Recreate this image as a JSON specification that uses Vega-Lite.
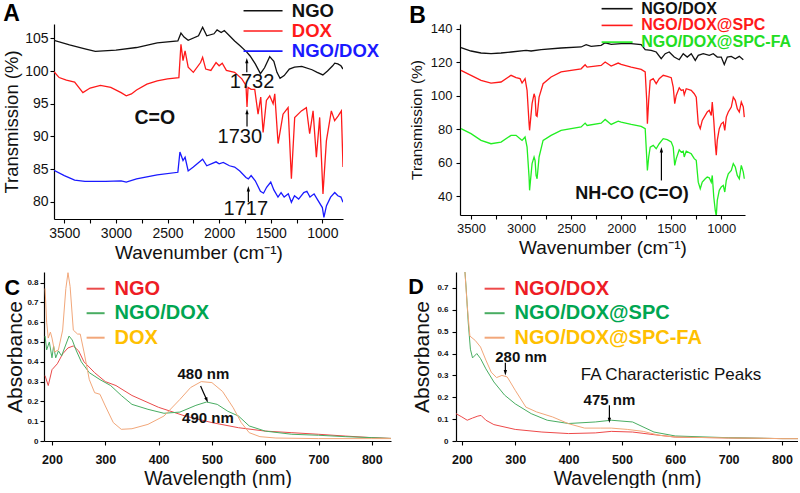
{
"$schema":"https://vega.github.io/schema/vega-lite/v6.json",
"background":"white",
"padding":{"left":2,"top":0,"right":0,"bottom":0},
"config":{"view":{"stroke":null},"font":"Liberation Sans",
 "axis":{"grid":false,"domainColor":"#000","tickColor":"#000","labelColor":"#111","titleColor":"#111","titleFontWeight":"normal","tickSize":4,"domainWidth":1.2,"tickWidth":1.1,"labelOverlap":false,"labelFlush":false,"labelFont":"Liberation Sans","titleFont":"Liberation Sans"},
 "legend":{"labelLimit":0,"padding":0,"labelFont":"Liberation Sans","labelFontWeight":"bold"}
},
"datasets":{
"ftirA":[
{"series":"NGO","wn":3600,"t":104.7},{"series":"NGO","wn":3450,"t":104.0},{"series":"NGO","wn":3300,"t":103.4},{"series":"NGO","wn":3200,"t":103.0},{"series":"NGO","wn":3000,"t":103.2},{"series":"NGO","wn":2800,"t":103.6},{"series":"NGO","wn":2600,"t":104.3},{"series":"NGO","wn":2400,"t":104.6},{"series":"NGO","wn":2370,"t":105.8},{"series":"NGO","wn":2340,"t":105.2},{"series":"NGO","wn":2300,"t":104.7},{"series":"NGO","wn":2200,"t":105.4},{"series":"NGO","wn":2160,"t":106.7},{"series":"NGO","wn":2120,"t":105.4},{"series":"NGO","wn":2050,"t":105.7},{"series":"NGO","wn":2020,"t":106.3},{"series":"NGO","wn":1980,"t":105.9},{"series":"NGO","wn":1950,"t":106.2},{"series":"NGO","wn":1900,"t":105.4},{"series":"NGO","wn":1850,"t":104.6},{"series":"NGO","wn":1800,"t":103.9},{"series":"NGO","wn":1732,"t":102.9},{"series":"NGO","wn":1700,"t":102.3},{"series":"NGO","wn":1650,"t":101.1},{"series":"NGO","wn":1600,"t":99.6},{"series":"NGO","wn":1560,"t":100.5},{"series":"NGO","wn":1510,"t":102.2},{"series":"NGO","wn":1470,"t":101.5},{"series":"NGO","wn":1440,"t":99.8},{"series":"NGO","wn":1410,"t":98.9},{"series":"NGO","wn":1370,"t":99.3},{"series":"NGO","wn":1320,"t":100.3},{"series":"NGO","wn":1270,"t":100.6},{"series":"NGO","wn":1200,"t":100.7},{"series":"NGO","wn":1100,"t":100.2},{"series":"NGO","wn":1050,"t":99.8},{"series":"NGO","wn":995,"t":99.4},{"series":"NGO","wn":950,"t":100.0},{"series":"NGO","wn":900,"t":100.8},{"series":"NGO","wn":880,"t":101.2},{"series":"NGO","wn":850,"t":101.1},{"series":"NGO","wn":820,"t":100.8},{"series":"NGO","wn":800,"t":100.3},
{"series":"DOX","wn":3600,"t":99.9},{"series":"DOX","wn":3550,"t":99.0},{"series":"DOX","wn":3480,"t":98.6},{"series":"DOX","wn":3400,"t":98.3},{"series":"DOX","wn":3320,"t":96.7},{"series":"DOX","wn":3250,"t":97.4},{"series":"DOX","wn":3150,"t":97.8},{"series":"DOX","wn":3050,"t":97.5},{"series":"DOX","wn":2950,"t":96.7},{"series":"DOX","wn":2900,"t":96.2},{"series":"DOX","wn":2850,"t":96.5},{"series":"DOX","wn":2800,"t":97.1},{"series":"DOX","wn":2700,"t":98.0},{"series":"DOX","wn":2600,"t":98.5},{"series":"DOX","wn":2500,"t":98.8},{"series":"DOX","wn":2390,"t":99.0},{"series":"DOX","wn":2370,"t":104.1},{"series":"DOX","wn":2350,"t":101.6},{"series":"DOX","wn":2330,"t":103.1},{"series":"DOX","wn":2300,"t":100.6},{"series":"DOX","wn":2250,"t":99.8},{"series":"DOX","wn":2180,"t":101.3},{"series":"DOX","wn":2160,"t":102.1},{"series":"DOX","wn":2130,"t":100.3},{"series":"DOX","wn":2080,"t":100.1},{"series":"DOX","wn":2030,"t":101.3},{"series":"DOX","wn":2000,"t":100.8},{"series":"DOX","wn":1970,"t":101.2},{"series":"DOX","wn":1930,"t":100.1},{"series":"DOX","wn":1850,"t":99.8},{"series":"DOX","wn":1780,"t":98.8},{"series":"DOX","wn":1740,"t":97.8},{"series":"DOX","wn":1730,"t":94.5},{"series":"DOX","wn":1720,"t":97.5},{"series":"DOX","wn":1690,"t":97.2},{"series":"DOX","wn":1655,"t":97.2},{"series":"DOX","wn":1623,"t":93.4},{"series":"DOX","wn":1597,"t":96.0},{"series":"DOX","wn":1574,"t":90.6},{"series":"DOX","wn":1542,"t":95.5},{"series":"DOX","wn":1510,"t":96.2},{"series":"DOX","wn":1477,"t":95.0},{"series":"DOX","wn":1461,"t":96.5},{"series":"DOX","wn":1429,"t":88.9},{"series":"DOX","wn":1381,"t":93.4},{"series":"DOX","wn":1332,"t":94.4},{"series":"DOX","wn":1300,"t":83.5},{"series":"DOX","wn":1268,"t":92.9},{"series":"DOX","wn":1203,"t":93.9},{"series":"DOX","wn":1155,"t":94.4},{"series":"DOX","wn":1123,"t":90.4},{"series":"DOX","wn":1090,"t":93.9},{"series":"DOX","wn":1058,"t":86.8},{"series":"DOX","wn":1026,"t":92.9},{"series":"DOX","wn":994,"t":81.2},{"series":"DOX","wn":961,"t":89.3},{"series":"DOX","wn":913,"t":93.9},{"series":"DOX","wn":881,"t":92.4},{"series":"DOX","wn":848,"t":93.1},{"series":"DOX","wn":816,"t":93.9},{"series":"DOX","wn":800,"t":85.3},
{"series":"NGO/DOX","wn":3600,"t":84.8},{"series":"NGO/DOX","wn":3500,"t":84.0},{"series":"NGO/DOX","wn":3400,"t":83.3},{"series":"NGO/DOX","wn":3300,"t":83.1},{"series":"NGO/DOX","wn":3100,"t":83.1},{"series":"NGO/DOX","wn":2950,"t":83.2},{"series":"NGO/DOX","wn":2900,"t":83.0},{"series":"NGO/DOX","wn":2800,"t":83.5},{"series":"NGO/DOX","wn":2600,"t":84.1},{"series":"NGO/DOX","wn":2400,"t":84.5},{"series":"NGO/DOX","wn":2380,"t":87.6},{"series":"NGO/DOX","wn":2350,"t":86.3},{"series":"NGO/DOX","wn":2330,"t":86.8},{"series":"NGO/DOX","wn":2300,"t":84.7},{"series":"NGO/DOX","wn":2250,"t":85.3},{"series":"NGO/DOX","wn":2160,"t":86.5},{"series":"NGO/DOX","wn":2120,"t":85.5},{"series":"NGO/DOX","wn":2030,"t":86.1},{"series":"NGO/DOX","wn":2000,"t":85.8},{"series":"NGO/DOX","wn":1960,"t":86.0},{"series":"NGO/DOX","wn":1900,"t":85.5},{"series":"NGO/DOX","wn":1850,"t":85.3},{"series":"NGO/DOX","wn":1800,"t":84.7},{"series":"NGO/DOX","wn":1740,"t":83.7},{"series":"NGO/DOX","wn":1717,"t":83.5},{"series":"NGO/DOX","wn":1690,"t":84.0},{"series":"NGO/DOX","wn":1650,"t":83.2},{"series":"NGO/DOX","wn":1600,"t":81.6},{"series":"NGO/DOX","wn":1570,"t":81.3},{"series":"NGO/DOX","wn":1540,"t":82.2},{"series":"NGO/DOX","wn":1500,"t":83.0},{"series":"NGO/DOX","wn":1470,"t":81.8},{"series":"NGO/DOX","wn":1430,"t":80.7},{"series":"NGO/DOX","wn":1400,"t":81.4},{"series":"NGO/DOX","wn":1370,"t":80.7},{"series":"NGO/DOX","wn":1330,"t":81.2},{"series":"NGO/DOX","wn":1300,"t":79.9},{"series":"NGO/DOX","wn":1270,"t":80.9},{"series":"NGO/DOX","wn":1230,"t":80.4},{"series":"NGO/DOX","wn":1180,"t":81.4},{"series":"NGO/DOX","wn":1150,"t":81.6},{"series":"NGO/DOX","wn":1120,"t":80.7},{"series":"NGO/DOX","wn":1080,"t":81.2},{"series":"NGO/DOX","wn":1050,"t":80.4},{"series":"NGO/DOX","wn":1000,"t":79.1},{"series":"NGO/DOX","wn":985,"t":77.6},{"series":"NGO/DOX","wn":960,"t":79.4},{"series":"NGO/DOX","wn":920,"t":80.7},{"series":"NGO/DOX","wn":880,"t":81.4},{"series":"NGO/DOX","wn":850,"t":80.9},{"series":"NGO/DOX","wn":820,"t":80.7},{"series":"NGO/DOX","wn":800,"t":79.9}
],
"annA":[
{"label":"A","kind":"panel","wn":4091,"t":108.7},
{"label":"1732","kind":"peak","wn":1681,"t":98.3},
{"label":"1730","kind":"peak","wn":1800,"t":89.85},
{"label":"1717","kind":"peak","wn":1742,"t":78.9},
{"label":"C=O","kind":"group","wn":2623,"t":92.8}
],
"arrA":[
{"wn":1732,"t":101.45,"t2":99.8},
{"wn":1730,"t":93.65,"t2":91.5},
{"wn":1717,"t":81.85,"t2":79.9}
],
"ftirB":[
{"series":"NGO/DOX","wn":3600,"t":128.7},{"series":"NGO/DOX","wn":3500,"t":126.7},{"series":"NGO/DOX","wn":3400,"t":125.5},{"series":"NGO/DOX","wn":3300,"t":125.1},{"series":"NGO/DOX","wn":3200,"t":125.5},{"series":"NGO/DOX","wn":3100,"t":126.1},{"series":"NGO/DOX","wn":2950,"t":127.1},{"series":"NGO/DOX","wn":2900,"t":126.7},{"series":"NGO/DOX","wn":2800,"t":127.5},{"series":"NGO/DOX","wn":2600,"t":128.5},{"series":"NGO/DOX","wn":2400,"t":129.1},{"series":"NGO/DOX","wn":2350,"t":130.5},{"series":"NGO/DOX","wn":2300,"t":129.5},{"series":"NGO/DOX","wn":2200,"t":130.1},{"series":"NGO/DOX","wn":2160,"t":131.6},{"series":"NGO/DOX","wn":2100,"t":130.7},{"series":"NGO/DOX","wn":2000,"t":131.1},{"series":"NGO/DOX","wn":1900,"t":131.1},{"series":"NGO/DOX","wn":1800,"t":130.5},{"series":"NGO/DOX","wn":1760,"t":127.5},{"series":"NGO/DOX","wn":1700,"t":127.1},{"series":"NGO/DOX","wn":1650,"t":126.1},{"series":"NGO/DOX","wn":1600,"t":122.1},{"series":"NGO/DOX","wn":1560,"t":125.1},{"series":"NGO/DOX","wn":1520,"t":126.1},{"series":"NGO/DOX","wn":1470,"t":123.1},{"series":"NGO/DOX","wn":1420,"t":121.5},{"series":"NGO/DOX","wn":1380,"t":125.1},{"series":"NGO/DOX","wn":1340,"t":123.1},{"series":"NGO/DOX","wn":1300,"t":125.1},{"series":"NGO/DOX","wn":1260,"t":121.1},{"series":"NGO/DOX","wn":1230,"t":124.1},{"series":"NGO/DOX","wn":1180,"t":125.1},{"series":"NGO/DOX","wn":1120,"t":124.1},{"series":"NGO/DOX","wn":1080,"t":125.1},{"series":"NGO/DOX","wn":1040,"t":123.1},{"series":"NGO/DOX","wn":1000,"t":123.1},{"series":"NGO/DOX","wn":970,"t":118.7},{"series":"NGO/DOX","wn":940,"t":123.1},{"series":"NGO/DOX","wn":900,"t":123.5},{"series":"NGO/DOX","wn":860,"t":122.1},{"series":"NGO/DOX","wn":820,"t":123.5},{"series":"NGO/DOX","wn":780,"t":121.5},
{"series":"NGO/DOX@SPC","wn":3600,"t":115.1},{"series":"NGO/DOX@SPC","wn":3500,"t":112.2},{"series":"NGO/DOX@SPC","wn":3400,"t":109.2},{"series":"NGO/DOX@SPC","wn":3300,"t":107.6},{"series":"NGO/DOX@SPC","wn":3200,"t":108.2},{"series":"NGO/DOX@SPC","wn":3100,"t":112.2},{"series":"NGO/DOX@SPC","wn":3050,"t":110.8},{"series":"NGO/DOX@SPC","wn":3010,"t":110.2},{"series":"NGO/DOX@SPC","wn":2990,"t":107.6},{"series":"NGO/DOX@SPC","wn":2960,"t":110.2},{"series":"NGO/DOX@SPC","wn":2940,"t":103.2},{"series":"NGO/DOX@SPC","wn":2920,"t":83.3},{"series":"NGO/DOX@SPC","wn":2915,"t":79.4},{"series":"NGO/DOX@SPC","wn":2890,"t":95.3},{"series":"NGO/DOX@SPC","wn":2870,"t":101.2},{"series":"NGO/DOX@SPC","wn":2860,"t":99.2},{"series":"NGO/DOX@SPC","wn":2850,"t":88.3},{"series":"NGO/DOX@SPC","wn":2840,"t":87.7},{"series":"NGO/DOX@SPC","wn":2820,"t":99.2},{"series":"NGO/DOX@SPC","wn":2780,"t":107.2},{"series":"NGO/DOX@SPC","wn":2700,"t":111.2},{"series":"NGO/DOX@SPC","wn":2600,"t":114.2},{"series":"NGO/DOX@SPC","wn":2400,"t":116.1},{"series":"NGO/DOX@SPC","wn":2360,"t":118.5},{"series":"NGO/DOX@SPC","wn":2340,"t":117.1},{"series":"NGO/DOX@SPC","wn":2200,"t":118.1},{"series":"NGO/DOX@SPC","wn":2160,"t":120.1},{"series":"NGO/DOX@SPC","wn":2100,"t":117.7},{"series":"NGO/DOX@SPC","wn":2030,"t":119.5},{"series":"NGO/DOX@SPC","wn":2000,"t":118.7},{"series":"NGO/DOX@SPC","wn":1900,"t":117.1},{"series":"NGO/DOX@SPC","wn":1800,"t":115.7},{"series":"NGO/DOX@SPC","wn":1760,"t":114.2},{"series":"NGO/DOX@SPC","wn":1745,"t":97.3},{"series":"NGO/DOX@SPC","wn":1738,"t":83.3},{"series":"NGO/DOX@SPC","wn":1725,"t":97.3},{"series":"NGO/DOX@SPC","wn":1710,"t":109.2},{"series":"NGO/DOX@SPC","wn":1680,"t":110.2},{"series":"NGO/DOX@SPC","wn":1650,"t":107.2},{"series":"NGO/DOX@SPC","wn":1620,"t":110.2},{"series":"NGO/DOX@SPC","wn":1580,"t":112.2},{"series":"NGO/DOX@SPC","wn":1540,"t":111.6},{"series":"NGO/DOX@SPC","wn":1500,"t":110.8},{"series":"NGO/DOX@SPC","wn":1480,"t":105.2},{"series":"NGO/DOX@SPC","wn":1465,"t":95.3},{"series":"NGO/DOX@SPC","wn":1450,"t":100.2},{"series":"NGO/DOX@SPC","wn":1420,"t":104.8},{"series":"NGO/DOX@SPC","wn":1400,"t":103.2},{"series":"NGO/DOX@SPC","wn":1380,"t":103.6},{"series":"NGO/DOX@SPC","wn":1370,"t":100.6},{"series":"NGO/DOX@SPC","wn":1350,"t":104.2},{"series":"NGO/DOX@SPC","wn":1300,"t":103.2},{"series":"NGO/DOX@SPC","wn":1270,"t":101.2},{"series":"NGO/DOX@SPC","wn":1250,"t":99.2},{"series":"NGO/DOX@SPC","wn":1230,"t":83.3},{"series":"NGO/DOX@SPC","wn":1210,"t":80.4},{"series":"NGO/DOX@SPC","wn":1190,"t":85.3},{"series":"NGO/DOX@SPC","wn":1160,"t":88.3},{"series":"NGO/DOX@SPC","wn":1140,"t":90.3},{"series":"NGO/DOX@SPC","wn":1120,"t":91.3},{"series":"NGO/DOX@SPC","wn":1100,"t":88.3},{"series":"NGO/DOX@SPC","wn":1090,"t":96.3},{"series":"NGO/DOX@SPC","wn":1075,"t":85.3},{"series":"NGO/DOX@SPC","wn":1060,"t":71.4},{"series":"NGO/DOX@SPC","wn":1050,"t":64.5},{"series":"NGO/DOX@SPC","wn":1040,"t":73.4},{"series":"NGO/DOX@SPC","wn":1020,"t":80.4},{"series":"NGO/DOX@SPC","wn":1000,"t":83.3},{"series":"NGO/DOX@SPC","wn":980,"t":84.3},{"series":"NGO/DOX@SPC","wn":965,"t":79.4},{"series":"NGO/DOX@SPC","wn":950,"t":87.3},{"series":"NGO/DOX@SPC","wn":930,"t":90.3},{"series":"NGO/DOX@SPC","wn":900,"t":93.3},{"series":"NGO/DOX@SPC","wn":880,"t":99.2},{"series":"NGO/DOX@SPC","wn":860,"t":97.3},{"series":"NGO/DOX@SPC","wn":840,"t":92.3},{"series":"NGO/DOX@SPC","wn":820,"t":90.3},{"series":"NGO/DOX@SPC","wn":800,"t":96.3},{"series":"NGO/DOX@SPC","wn":780,"t":93.3},{"series":"NGO/DOX@SPC","wn":770,"t":87.3},
{"series":"NGO/DOX@SPC-FA","wn":3600,"t":80.4},{"series":"NGO/DOX@SPC-FA","wn":3500,"t":77.4},{"series":"NGO/DOX@SPC-FA","wn":3400,"t":73.4},{"series":"NGO/DOX@SPC-FA","wn":3300,"t":71.4},{"series":"NGO/DOX@SPC-FA","wn":3200,"t":72.4},{"series":"NGO/DOX@SPC-FA","wn":3100,"t":76.4},{"series":"NGO/DOX@SPC-FA","wn":3050,"t":76.4},{"series":"NGO/DOX@SPC-FA","wn":3010,"t":74.4},{"series":"NGO/DOX@SPC-FA","wn":2990,"t":73.4},{"series":"NGO/DOX@SPC-FA","wn":2960,"t":75.4},{"series":"NGO/DOX@SPC-FA","wn":2940,"t":69.4},{"series":"NGO/DOX@SPC-FA","wn":2920,"t":51.5},{"series":"NGO/DOX@SPC-FA","wn":2915,"t":43.6},{"series":"NGO/DOX@SPC-FA","wn":2890,"t":59.5},{"series":"NGO/DOX@SPC-FA","wn":2870,"t":63.5},{"series":"NGO/DOX@SPC-FA","wn":2860,"t":61.5},{"series":"NGO/DOX@SPC-FA","wn":2850,"t":52.5},{"series":"NGO/DOX@SPC-FA","wn":2840,"t":50.5},{"series":"NGO/DOX@SPC-FA","wn":2820,"t":63.5},{"series":"NGO/DOX@SPC-FA","wn":2780,"t":73.4},{"series":"NGO/DOX@SPC-FA","wn":2700,"t":76.4},{"series":"NGO/DOX@SPC-FA","wn":2600,"t":79.4},{"series":"NGO/DOX@SPC-FA","wn":2400,"t":81.4},{"series":"NGO/DOX@SPC-FA","wn":2360,"t":83.7},{"series":"NGO/DOX@SPC-FA","wn":2340,"t":82.3},{"series":"NGO/DOX@SPC-FA","wn":2200,"t":83.7},{"series":"NGO/DOX@SPC-FA","wn":2160,"t":85.9},{"series":"NGO/DOX@SPC-FA","wn":2100,"t":82.9},{"series":"NGO/DOX@SPC-FA","wn":2030,"t":84.9},{"series":"NGO/DOX@SPC-FA","wn":2000,"t":84.3},{"series":"NGO/DOX@SPC-FA","wn":1900,"t":82.9},{"series":"NGO/DOX@SPC-FA","wn":1800,"t":81.7},{"series":"NGO/DOX@SPC-FA","wn":1760,"t":80.4},{"series":"NGO/DOX@SPC-FA","wn":1745,"t":63.5},{"series":"NGO/DOX@SPC-FA","wn":1738,"t":55.5},{"series":"NGO/DOX@SPC-FA","wn":1725,"t":63.5},{"series":"NGO/DOX@SPC-FA","wn":1710,"t":69.4},{"series":"NGO/DOX@SPC-FA","wn":1680,"t":70.4},{"series":"NGO/DOX@SPC-FA","wn":1650,"t":68.4},{"series":"NGO/DOX@SPC-FA","wn":1620,"t":71.4},{"series":"NGO/DOX@SPC-FA","wn":1580,"t":74.4},{"series":"NGO/DOX@SPC-FA","wn":1540,"t":73.8},{"series":"NGO/DOX@SPC-FA","wn":1500,"t":72.4},{"series":"NGO/DOX@SPC-FA","wn":1480,"t":69.4},{"series":"NGO/DOX@SPC-FA","wn":1465,"t":58.5},{"series":"NGO/DOX@SPC-FA","wn":1450,"t":62.5},{"series":"NGO/DOX@SPC-FA","wn":1420,"t":67.8},{"series":"NGO/DOX@SPC-FA","wn":1400,"t":66.4},{"series":"NGO/DOX@SPC-FA","wn":1380,"t":67.0},{"series":"NGO/DOX@SPC-FA","wn":1370,"t":63.5},{"series":"NGO/DOX@SPC-FA","wn":1350,"t":67.0},{"series":"NGO/DOX@SPC-FA","wn":1300,"t":65.4},{"series":"NGO/DOX@SPC-FA","wn":1270,"t":62.5},{"series":"NGO/DOX@SPC-FA","wn":1250,"t":61.5},{"series":"NGO/DOX@SPC-FA","wn":1230,"t":48.5},{"series":"NGO/DOX@SPC-FA","wn":1210,"t":44.6},{"series":"NGO/DOX@SPC-FA","wn":1190,"t":48.5},{"series":"NGO/DOX@SPC-FA","wn":1160,"t":50.5},{"series":"NGO/DOX@SPC-FA","wn":1140,"t":51.5},{"series":"NGO/DOX@SPC-FA","wn":1120,"t":51.1},{"series":"NGO/DOX@SPC-FA","wn":1100,"t":48.5},{"series":"NGO/DOX@SPC-FA","wn":1090,"t":52.5},{"series":"NGO/DOX@SPC-FA","wn":1075,"t":39.6},{"series":"NGO/DOX@SPC-FA","wn":1060,"t":31.6},{"series":"NGO/DOX@SPC-FA","wn":1050,"t":28.2},{"series":"NGO/DOX@SPC-FA","wn":1040,"t":37.6},{"series":"NGO/DOX@SPC-FA","wn":1020,"t":43.6},{"series":"NGO/DOX@SPC-FA","wn":1000,"t":45.6},{"series":"NGO/DOX@SPC-FA","wn":980,"t":46.6},{"series":"NGO/DOX@SPC-FA","wn":965,"t":42.6},{"series":"NGO/DOX@SPC-FA","wn":950,"t":49.5},{"series":"NGO/DOX@SPC-FA","wn":930,"t":53.5},{"series":"NGO/DOX@SPC-FA","wn":900,"t":55.5},{"series":"NGO/DOX@SPC-FA","wn":880,"t":59.5},{"series":"NGO/DOX@SPC-FA","wn":860,"t":57.5},{"series":"NGO/DOX@SPC-FA","wn":840,"t":52.5},{"series":"NGO/DOX@SPC-FA","wn":820,"t":50.5},{"series":"NGO/DOX@SPC-FA","wn":800,"t":58.5},{"series":"NGO/DOX@SPC-FA","wn":780,"t":54.5},{"series":"NGO/DOX@SPC-FA","wn":770,"t":50.5}
],
"annB":[
{"label":"B","kind":"panel","wn":4116,"t":147.75},
{"label":"NH-CO (C=O)","kind":"group","wn":1893,"t":41.6}
],
"arrB":[{"wn":1598,"t":67.3,"t2":49.5}],
"uvC":[
{"series":"NGO","wl":187,"a":0.33},{"series":"NGO","wl":193,"a":0.28},{"series":"NGO","wl":200,"a":0.36},{"series":"NGO","wl":210,"a":0.39},{"series":"NGO","wl":220,"a":0.44},{"series":"NGO","wl":230,"a":0.47},{"series":"NGO","wl":240,"a":0.48},{"series":"NGO","wl":250,"a":0.455},{"series":"NGO","wl":260,"a":0.40},{"series":"NGO","wl":280,"a":0.345},{"series":"NGO","wl":300,"a":0.30},{"series":"NGO","wl":320,"a":0.28},{"series":"NGO","wl":350,"a":0.23},{"series":"NGO","wl":400,"a":0.17},{"series":"NGO","wl":450,"a":0.126},{"series":"NGO","wl":500,"a":0.093},{"series":"NGO","wl":550,"a":0.067},{"series":"NGO","wl":600,"a":0.05},{"series":"NGO","wl":650,"a":0.042},{"series":"NGO","wl":700,"a":0.034},{"series":"NGO","wl":750,"a":0.025},{"series":"NGO","wl":800,"a":0.017},{"series":"NGO","wl":836,"a":0.013},
{"series":"NGO/DOX","wl":187,"a":0.53},{"series":"NGO/DOX","wl":190,"a":0.46},{"series":"NGO/DOX","wl":195,"a":0.50},{"series":"NGO/DOX","wl":200,"a":0.42},{"series":"NGO/DOX","wl":203,"a":0.48},{"series":"NGO/DOX","wl":207,"a":0.42},{"series":"NGO/DOX","wl":212,"a":0.455},{"series":"NGO/DOX","wl":218,"a":0.43},{"series":"NGO/DOX","wl":225,"a":0.48},{"series":"NGO/DOX","wl":232,"a":0.53},{"series":"NGO/DOX","wl":238,"a":0.51},{"series":"NGO/DOX","wl":245,"a":0.46},{"series":"NGO/DOX","wl":255,"a":0.40},{"series":"NGO/DOX","wl":270,"a":0.345},{"series":"NGO/DOX","wl":290,"a":0.31},{"series":"NGO/DOX","wl":310,"a":0.28},{"series":"NGO/DOX","wl":330,"a":0.23},{"series":"NGO/DOX","wl":350,"a":0.185},{"series":"NGO/DOX","wl":380,"a":0.16},{"series":"NGO/DOX","wl":410,"a":0.14},{"series":"NGO/DOX","wl":440,"a":0.146},{"series":"NGO/DOX","wl":470,"a":0.18},{"series":"NGO/DOX","wl":490,"a":0.197},{"series":"NGO/DOX","wl":510,"a":0.185},{"series":"NGO/DOX","wl":530,"a":0.15},{"series":"NGO/DOX","wl":550,"a":0.126},{"series":"NGO/DOX","wl":570,"a":0.076},{"series":"NGO/DOX","wl":600,"a":0.05},{"series":"NGO/DOX","wl":650,"a":0.034},{"series":"NGO/DOX","wl":700,"a":0.029},{"series":"NGO/DOX","wl":750,"a":0.022},{"series":"NGO/DOX","wl":800,"a":0.017},{"series":"NGO/DOX","wl":836,"a":0.013},
{"series":"DOX","wl":187,"a":0.77},{"series":"DOX","wl":190,"a":0.60},{"series":"DOX","wl":193,"a":0.52},{"series":"DOX","wl":197,"a":0.55},{"series":"DOX","wl":200,"a":0.52},{"series":"DOX","wl":205,"a":0.45},{"series":"DOX","wl":212,"a":0.46},{"series":"DOX","wl":220,"a":0.56},{"series":"DOX","wl":226,"a":0.77},{"series":"DOX","wl":230,"a":0.85},{"series":"DOX","wl":234,"a":0.78},{"series":"DOX","wl":240,"a":0.56},{"series":"DOX","wl":248,"a":0.54},{"series":"DOX","wl":253,"a":0.54},{"series":"DOX","wl":260,"a":0.45},{"series":"DOX","wl":270,"a":0.31},{"series":"DOX","wl":280,"a":0.244},{"series":"DOX","wl":290,"a":0.236},{"series":"DOX","wl":300,"a":0.177},{"series":"DOX","wl":315,"a":0.093},{"series":"DOX","wl":330,"a":0.059},{"series":"DOX","wl":350,"a":0.062},{"series":"DOX","wl":380,"a":0.084},{"series":"DOX","wl":410,"a":0.126},{"series":"DOX","wl":440,"a":0.21},{"series":"DOX","wl":460,"a":0.27},{"series":"DOX","wl":480,"a":0.30},{"series":"DOX","wl":500,"a":0.295},{"series":"DOX","wl":520,"a":0.25},{"series":"DOX","wl":540,"a":0.168},{"series":"DOX","wl":555,"a":0.093},{"series":"DOX","wl":570,"a":0.042},{"series":"DOX","wl":590,"a":0.022},{"series":"DOX","wl":620,"a":0.015},{"series":"DOX","wl":700,"a":0.012},{"series":"DOX","wl":800,"a":0.012},{"series":"DOX","wl":836,"a":0.012}
],
"annC":[
{"label":"C","kind":"panel","wl":111.1,"a":0.769},
{"label":"480 nm","kind":"peak","wl":484,"a":0.337},
{"label":"490 nm","kind":"peak","wl":492.5,"a":0.114}
],
"arrC":[{"wl":489.8,"a":0.2107,"wl2":478.75,"a2":0.278}],
"uvD":[
{"series":"NGO/DOX","wl":189,"a":0.125},{"series":"NGO/DOX","wl":200,"a":0.11},{"series":"NGO/DOX","wl":210,"a":0.095},{"series":"NGO/DOX","wl":220,"a":0.105},{"series":"NGO/DOX","wl":230,"a":0.114},{"series":"NGO/DOX","wl":236,"a":0.117},{"series":"NGO/DOX","wl":245,"a":0.095},{"series":"NGO/DOX","wl":260,"a":0.075},{"series":"NGO/DOX","wl":300,"a":0.053},{"series":"NGO/DOX","wl":350,"a":0.041},{"series":"NGO/DOX","wl":400,"a":0.034},{"series":"NGO/DOX","wl":450,"a":0.037},{"series":"NGO/DOX","wl":480,"a":0.044},{"series":"NGO/DOX","wl":520,"a":0.041},{"series":"NGO/DOX","wl":560,"a":0.029},{"series":"NGO/DOX","wl":600,"a":0.018},{"series":"NGO/DOX","wl":700,"a":0.014},{"series":"NGO/DOX","wl":800,"a":0.011},{"series":"NGO/DOX","wl":830,"a":0.011},
{"series":"NGO/DOX@SPC","wl":205,"a":0.8},{"series":"NGO/DOX@SPC","wl":208,"a":0.70},{"series":"NGO/DOX@SPC","wl":212,"a":0.54},{"series":"NGO/DOX@SPC","wl":216,"a":0.42},{"series":"NGO/DOX@SPC","wl":220,"a":0.38},{"series":"NGO/DOX@SPC","wl":228,"a":0.40},{"series":"NGO/DOX@SPC","wl":235,"a":0.377},{"series":"NGO/DOX@SPC","wl":245,"a":0.33},{"series":"NGO/DOX@SPC","wl":260,"a":0.27},{"series":"NGO/DOX@SPC","wl":280,"a":0.21},{"series":"NGO/DOX@SPC","wl":300,"a":0.17},{"series":"NGO/DOX@SPC","wl":330,"a":0.125},{"series":"NGO/DOX@SPC","wl":360,"a":0.095},{"series":"NGO/DOX@SPC","wl":400,"a":0.08},{"series":"NGO/DOX@SPC","wl":450,"a":0.087},{"series":"NGO/DOX@SPC","wl":480,"a":0.095},{"series":"NGO/DOX@SPC","wl":520,"a":0.087},{"series":"NGO/DOX@SPC","wl":560,"a":0.041},{"series":"NGO/DOX@SPC","wl":600,"a":0.023},{"series":"NGO/DOX@SPC","wl":700,"a":0.015},{"series":"NGO/DOX@SPC","wl":800,"a":0.011},{"series":"NGO/DOX@SPC","wl":830,"a":0.011},
{"series":"NGO/DOX@SPC-FA","wl":205,"a":0.8},{"series":"NGO/DOX@SPC-FA","wl":210,"a":0.62},{"series":"NGO/DOX@SPC-FA","wl":215,"a":0.48},{"series":"NGO/DOX@SPC-FA","wl":225,"a":0.46},{"series":"NGO/DOX@SPC-FA","wl":235,"a":0.43},{"series":"NGO/DOX@SPC-FA","wl":245,"a":0.37},{"series":"NGO/DOX@SPC-FA","wl":255,"a":0.315},{"series":"NGO/DOX@SPC-FA","wl":265,"a":0.29},{"series":"NGO/DOX@SPC-FA","wl":275,"a":0.30},{"series":"NGO/DOX@SPC-FA","wl":285,"a":0.293},{"series":"NGO/DOX@SPC-FA","wl":300,"a":0.232},{"series":"NGO/DOX@SPC-FA","wl":320,"a":0.155},{"series":"NGO/DOX@SPC-FA","wl":340,"a":0.133},{"series":"NGO/DOX@SPC-FA","wl":370,"a":0.11},{"series":"NGO/DOX@SPC-FA","wl":400,"a":0.079},{"series":"NGO/DOX@SPC-FA","wl":430,"a":0.059},{"series":"NGO/DOX@SPC-FA","wl":460,"a":0.059},{"series":"NGO/DOX@SPC-FA","wl":480,"a":0.059},{"series":"NGO/DOX@SPC-FA","wl":510,"a":0.053},{"series":"NGO/DOX@SPC-FA","wl":540,"a":0.044},{"series":"NGO/DOX@SPC-FA","wl":570,"a":0.026},{"series":"NGO/DOX@SPC-FA","wl":600,"a":0.018},{"series":"NGO/DOX@SPC-FA","wl":700,"a":0.014},{"series":"NGO/DOX@SPC-FA","wl":800,"a":0.011},{"series":"NGO/DOX@SPC-FA","wl":830,"a":0.011}
],
"annD":[
{"label":"D","kind":"panel","wl":99.6,"a":0.699},
{"label":"280 nm","kind":"peak","wl":311,"a":0.384},
{"label":"FA Characteristic Peaks","kind":"note","wl":592,"a":0.303},
{"label":"475 nm","kind":"peak","wl":476.5,"a":0.186}
],
"arrD":[{"wl":281.5,"a":0.3165,"a2":0.358},{"wl":476.5,"a":0.0985,"a2":0.163}]
},
"spacing":10,
"resolve":{"scale":{"color":"independent"},"legend":{"color":"independent"}},
"vconcat":[
{"bounds":"flush","spacing":0,"resolve":{"scale":{"color":"independent"},"legend":{"color":"independent"}},
 "hconcat":[
 {"width":10,"height":10,"data":{"values":[]},"mark":"point","encoding":{}},
 {"bounds":"flush","spacing":117,"resolve":{"scale":{"color":"independent"},"legend":{"color":"independent"}},
 "hconcat":[
 {"width":289,"height":195,
  "encoding":{
   "x":{"field":"wn","type":"quantitative","scale":{"domain":[800,3600],"reverse":true,"nice":false,"zero":false},
        "axis":{"values":[1000,1250,1500,1750,2000,2250,2500,2750,3000,3250,3500],"format":"d","labelExpr":"datum.value % 500 === 0 ? datum.label : ''","title":"Wavenumber (cm⁻¹)","titleFontSize":19,"labelFontSize":14,"labelPadding":3,"titlePadding":3}},
   "y":{"field":"t","type":"quantitative","scale":{"domain":[77.35,107.2],"nice":false,"zero":false},
        "axis":{"values":[80,85,90,95,100,105],"title":"Transmission (%)","titleFontSize":18.5,"labelFontSize":14,"labelPadding":2,"titlePadding":3}}
  },
  "layer":[
   {"data":{"name":"ftirA"},"mark":{"type":"line","strokeWidth":1.3,"clip":true},
    "encoding":{"color":{"field":"series","type":"nominal","scale":{"domain":["NGO","DOX","NGO/DOX"],"range":["#111111","#ff1a1a","#1a1aff"]},
      "legend":{"orient":"none","legendX":214.3,"legendY":-22.5,"title":null,"symbolType":"M-6.8,0H1","symbolSize":100,"symbolStrokeWidth":1.6,"labelFontSize":18.5,"labelOffset":5,"rowPadding":1.2,
       "encode":{"labels":{"update":{"fill":{"signal":"datum.value === 'NGO' ? '#111111' : datum.value === 'DOX' ? '#ff1a1a' : '#1a1aff'"}}}}}}}},
   {"data":{"name":"annA"},"transform":[{"filter":"datum.kind === 'panel'"}],"mark":{"type":"text","fontSize":23,"fontWeight":"bold","align":"left","baseline":"middle","color":"#000"},"encoding":{"text":{"field":"label","type":"nominal"}}},
   {"data":{"name":"annA"},"transform":[{"filter":"datum.kind === 'peak'"}],"mark":{"type":"text","fontSize":20,"align":"center","baseline":"middle","color":"#111"},"encoding":{"text":{"field":"label","type":"nominal"}}},
   {"data":{"name":"annA"},"transform":[{"filter":"datum.kind === 'group'"}],"mark":{"type":"text","fontSize":19.5,"fontWeight":"bold","align":"center","baseline":"middle","color":"#111"},"encoding":{"text":{"field":"label","type":"nominal"}}},
   {"data":{"name":"arrA"},"mark":{"type":"rule","color":"#000","strokeWidth":1.2},"encoding":{"y2":{"field":"t2"}}},
   {"data":{"name":"arrA"},"mark":{"type":"point","shape":"M0,-1.2L0.55,0.6L-0.55,0.6Z","size":36,"filled":true,"color":"#000","opacity":1},"encoding":{}}
  ]},
 {"width":285,"height":191,
  "encoding":{
   "x":{"field":"wn","type":"quantitative","scale":{"domain":[763,3610],"reverse":true,"nice":false,"zero":false},
        "axis":{"values":[1000,1250,1500,1750,2000,2250,2500,2750,3000,3250,3500],"format":"d","labelExpr":"datum.value % 500 === 0 ? datum.label : ''","title":"Wavenumber (cm⁻¹)","titleFontSize":19,"labelFontSize":13,"labelPadding":3,"titlePadding":3}},
   "y":{"field":"t","type":"quantitative","scale":{"domain":[28.9,142.8],"nice":false,"zero":false},
        "axis":{"values":[40,60,80,100,120,140],"title":"Transmission (%)","titleFontSize":15.5,"labelFontSize":13,"labelPadding":4,"titlePadding":6}}
  },
  "layer":[
   {"data":{"name":"ftirB"},"mark":{"type":"line","strokeWidth":1.3,"clip":true},
    "encoding":{"color":{"field":"series","type":"nominal","scale":{"domain":["NGO/DOX","NGO/DOX@SPC","NGO/DOX@SPC-FA"],"range":["#111111","#ff1a1a","#22ee22"]},
      "legend":{"orient":"none","legendX":159.6,"legendY":-23.3,"title":null,"symbolType":"M-5.2,0H1","symbolSize":100,"symbolStrokeWidth":1.6,"labelFontSize":16,"labelOffset":5.7,"rowPadding":0.7,
       "encode":{"labels":{"update":{"fill":{"signal":"datum.value === 'NGO/DOX' ? '#111111' : datum.value === 'NGO/DOX@SPC' ? '#ff1a1a' : '#22dd22'"}}}}}}}},
   {"data":{"name":"annB"},"transform":[{"filter":"datum.kind === 'panel'"}],"mark":{"type":"text","fontSize":23,"fontWeight":"bold","align":"left","baseline":"middle","color":"#000"},"encoding":{"text":{"field":"label","type":"nominal"}}},
   {"data":{"name":"annB"},"transform":[{"filter":"datum.kind === 'group'"}],"mark":{"type":"text","fontSize":18,"fontWeight":"bold","align":"center","baseline":"middle","color":"#111"},"encoding":{"text":{"field":"label","type":"nominal"}}},
   {"data":{"name":"arrB"},"mark":{"type":"rule","color":"#000","strokeWidth":1.2},"encoding":{"y2":{"field":"t2"}}},
   {"data":{"name":"arrB"},"mark":{"type":"point","shape":"M0,-1.2L0.55,0.6L-0.55,0.6Z","size":36,"filled":true,"color":"#000","opacity":1},"encoding":{}}
  ]}
 ]}
 ]},
{"bounds":"flush","spacing":65,"resolve":{"scale":{"color":"independent"},"legend":{"color":"independent"}},
 "hconcat":[
 {"width":347,"height":169,
  "encoding":{
   "x":{"field":"wl","type":"quantitative","scale":{"domain":[185,836],"nice":false,"zero":false},
        "axis":{"values":[200,300,400,500,600,700,800],"format":"d","title":"Wavelength (nm)","titleFontSize":19.5,"labelFontSize":12.5,"labelFontWeight":"bold","labelPadding":8,"titlePadding":4}},
   "y":{"field":"a","type":"quantitative","scale":{"domain":[0,0.8535],"nice":false,"zero":false},
        "axis":{"values":[0,0.1,0.2,0.3,0.4,0.5,0.6,0.7,0.8],"format":"~g","title":"Absorbance","titleFontSize":21,"labelFontSize":8,"labelFontWeight":"bold","labelPadding":2,"titlePadding":1}}
  },
  "layer":[
   {"data":{"name":"uvC"},"mark":{"type":"line","strokeWidth":1,"clip":true},
    "encoding":{"color":{"field":"series","type":"nominal","scale":{"domain":["NGO","NGO/DOX","DOX"],"range":["#ea4b4b","#49ad62","#f2a77a"]},
      "legend":{"orient":"none","legendX":45.6,"legendY":6.7,"title":null,"symbolType":"M-2.6,0H1","symbolSize":100,"symbolStrokeWidth":2,"labelFontSize":20,"labelOffset":5,"rowPadding":4.5,
       "encode":{"labels":{"update":{"fill":{"signal":"datum.value === 'NGO' ? '#ee1c25' : datum.value === 'NGO/DOX' ? '#00a651' : '#ffc000'"}}},
                 "symbols":{"update":{"stroke":{"signal":"datum.value === 'NGO' ? '#ee1c25' : datum.value === 'NGO/DOX' ? '#00a651' : '#ffc000'"}}}}}}}},
   {"data":{"name":"annC"},"transform":[{"filter":"datum.kind === 'panel'"}],"mark":{"type":"text","fontSize":21.5,"fontWeight":"bold","align":"left","baseline":"middle","color":"#000"},"encoding":{"text":{"field":"label","type":"nominal"}}},
   {"data":{"name":"annC"},"transform":[{"filter":"datum.kind === 'peak'"}],"mark":{"type":"text","fontSize":15,"fontWeight":"bold","align":"center","baseline":"middle","color":"#111"},"encoding":{"text":{"field":"label","type":"nominal"}}},
   {"data":{"name":"arrC"},"mark":{"type":"rule","color":"#000","strokeWidth":1.2},"encoding":{"x2":{"field":"wl2"},"y2":{"field":"a2"}}},
   {"data":{"name":"arrC"},"mark":{"type":"point","shape":"M0,1.2L0.55,-0.6L-0.55,-0.6Z","angle":-23.7,"size":36,"filled":true,"color":"#000","opacity":1},"encoding":{}}
  ]},
 {"width":342,"height":169,
  "encoding":{
   "x":{"field":"wl","type":"quantitative","scale":{"domain":[189,830],"nice":false,"zero":false},
        "axis":{"values":[200,300,400,500,600,700,800],"format":"d","title":"Wavelength (nm)","titleFontSize":19.5,"labelFontSize":12.5,"labelFontWeight":"bold","labelPadding":8,"titlePadding":4}},
   "y":{"field":"a","type":"quantitative","scale":{"domain":[0,0.773],"nice":false,"zero":false},
        "axis":{"values":[0,0.1,0.2,0.3,0.4,0.5,0.6,0.7],"format":"~g","title":"Absorbance","titleFontSize":21,"labelFontSize":8,"labelFontWeight":"bold","labelPadding":4,"titlePadding":4}}
  },
  "layer":[
   {"data":{"name":"uvD"},"mark":{"type":"line","strokeWidth":1,"clip":true},
    "encoding":{"color":{"field":"series","type":"nominal","scale":{"domain":["NGO/DOX","NGO/DOX@SPC","NGO/DOX@SPC-FA"],"range":["#ee4a4a","#49ad62","#f2a77a"]},
      "legend":{"orient":"none","legendX":33.6,"legendY":6.7,"title":null,"symbolType":"M-3,0H1","symbolSize":100,"symbolStrokeWidth":2,"labelFontSize":20,"labelOffset":5,"rowPadding":4.5,
       "encode":{"labels":{"update":{"fill":{"signal":"datum.value === 'NGO/DOX' ? '#ee1c25' : datum.value === 'NGO/DOX@SPC' ? '#00a651' : '#ffc000'"}}},
                 "symbols":{"update":{"stroke":{"signal":"datum.value === 'NGO/DOX' ? '#ee1c25' : datum.value === 'NGO/DOX@SPC' ? '#00a651' : '#ffc000'"}}}}}}}},
   {"data":{"name":"annD"},"transform":[{"filter":"datum.kind === 'panel'"}],"mark":{"type":"text","fontSize":21.5,"fontWeight":"bold","align":"left","baseline":"middle","color":"#000"},"encoding":{"text":{"field":"label","type":"nominal"}}},
   {"data":{"name":"annD"},"transform":[{"filter":"datum.kind === 'peak'"}],"mark":{"type":"text","fontSize":15,"fontWeight":"bold","align":"center","baseline":"middle","color":"#111"},"encoding":{"text":{"field":"label","type":"nominal"}}},
   {"data":{"name":"annD"},"transform":[{"filter":"datum.kind === 'note'"}],"mark":{"type":"text","fontSize":17,"align":"center","baseline":"middle","color":"#111"},"encoding":{"text":{"field":"label","type":"nominal"}}},
   {"data":{"name":"arrD"},"mark":{"type":"rule","color":"#000","strokeWidth":1.2},"encoding":{"y2":{"field":"a2"}}},
   {"data":{"name":"arrD"},"mark":{"type":"point","shape":"M0,1.2L0.55,-0.6L-0.55,-0.6Z","size":36,"filled":true,"color":"#000","opacity":1},"encoding":{}}
  ]}
 ]}
]
}
